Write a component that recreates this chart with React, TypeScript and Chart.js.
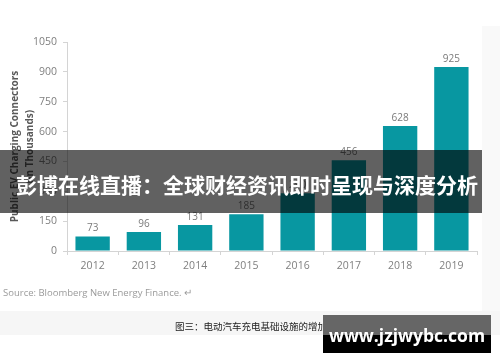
import React, { useEffect, useRef } from "react";
import { Chart, registerables } from "chart.js";

Chart.register(...registerables);

const years = ["2012", "2013", "2014", "2015", "2016", "2017", "2018", "2019"];
const connectors = [73, 96, 131, 185, 290, 456, 628, 925];
const yTitle = ["Public EV Charging Connectors", "(In Thousands)"];
const bannerText = "彭博在线直播：全球财经资讯即时呈现与深度分析";
const sourceText = "Source: Bloomberg New Energy Finance. ↵";
const captionText = "图三：电动汽车充电基础设施的增加";
const watermarkText = "www.jzjwybc.com";

const valueLabels = {
  id: "valueLabels",
  afterDatasetsDraw(chart: any) {
    const ctx = chart.ctx;
    const meta = chart.getDatasetMeta(0);
    ctx.save();
    ctx.font = "10px 'Open Sans', sans-serif";
    ctx.fillStyle = "#7a7a7a";
    ctx.textAlign = "center";
    ctx.textBaseline = "middle";
    meta.data.forEach((bar: any, i: number) => {
      ctx.fillText(String(chart.data.datasets[0].data[i]), bar.x, bar.y - 8);
    });
    ctx.restore();
  },
};

export default function App() {
  const ref = useRef<HTMLCanvasElement>(null);
  useEffect(() => {
    if (!ref.current) return;
    Chart.defaults.font.family = "'Open Sans', sans-serif";
    const chart = new Chart(ref.current, {
      type: "bar",
      data: {
        labels: years,
        datasets: [
          {
            data: connectors,
            backgroundColor: "#0897a1",
            barPercentage: 0.67,
            categoryPercentage: 1,
          },
        ],
      },
      options: {
        responsive: false,
        animation: false,
        layout: { padding: { left: 0, top: 42, right: 23, bottom: 81 } },
        plugins: { legend: { display: false }, tooltip: { enabled: false } },
        scales: {
          x: {
            grid: { offset: true, drawOnChartArea: false, drawTicks: true, tickLength: 4, color: "#d4d4d4" },
            border: { color: "#d4d4d4" },
            ticks: { color: "#7f7f7f", font: { size: 10.5 }, padding: 5 },
            afterFit: (s: any) => {
              s.height = 30;
            },
          },
          y: {
            min: 0,
            max: 1050,
            ticks: {
              stepSize: 150,
              color: "#7f7f7f",
              font: { size: 10.5 },
              padding: 6,
              callback: (v: any) => String(v),
            },
            grid: { drawOnChartArea: false, drawTicks: true, tickLength: 4, color: "#d4d4d4" },
            border: { color: "#d4d4d4" },
            title: {
              display: true,
              text: yTitle,
              color: "#595959",
              font: { size: 10, weight: "bold", lineHeight: 1.5 },
              padding: { top: 7.5, bottom: 0 },
            },
            afterFit: (s: any) => {
              s.width = 67;
            },
          },
        },
      },
      plugins: [valueLabels],
    });
    return () => chart.destroy();
  }, []);

  return (
    <div style={{ position: "absolute", left: 0, top: 0, width: 500, height: 362, background: "#fff", overflow: "hidden" }}>
      <div style={{ position: "absolute", left: 482, top: 26, width: 18, height: 285, background: "#f9f9f9" }} />
      <div style={{ position: "absolute", left: 0, top: 311, width: 500, height: 24, background: "#f6f6f6" }} />
      <canvas ref={ref} width={500} height={362} style={{ position: "absolute", left: 0, top: 0, width: 500, height: 362 }} />
      <div
        style={{
          position: "absolute",
          left: 3,
          top: 286,
          fontFamily: "'Open Sans', sans-serif",
          fontSize: 9.5,
          lineHeight: "14px",
          color: "#9a9a9a",
          whiteSpace: "nowrap",
        }}
      >
        {sourceText}
      </div>
      <div
        style={{
          position: "absolute",
          left: 175,
          top: 319,
          fontFamily: "'Noto Sans CJK SC', sans-serif",
          fontSize: 9.5,
          lineHeight: "14px",
          color: "#222",
          whiteSpace: "nowrap",
        }}
      >
        {captionText}
      </div>
      <div style={{ position: "absolute", left: 0, top: 150, width: 482, height: 63, background: "rgba(0,0,0,0.62)" }} />
      <div
        style={{
          position: "absolute",
          left: 16,
          top: 170,
          fontFamily: "'Noto Sans CJK SC', sans-serif",
          fontWeight: "bold",
          fontSize: 21,
          lineHeight: "28px",
          color: "#fff",
          whiteSpace: "nowrap",
        }}
      >
        {bannerText}
      </div>
      <div style={{ position: "absolute", left: 323, top: 315, width: 168, height: 20, background: "#666" }} />
      <div style={{ position: "absolute", left: 323, top: 335, width: 168, height: 18, background: "#000" }} />
      <div
        style={{
          position: "absolute",
          left: 323,
          top: 322,
          width: 168,
          textAlign: "center",
          fontFamily: "'Open Sans', sans-serif",
          fontWeight: "bold",
          fontSize: 17.5,
          lineHeight: "26px",
          color: "#fff",
          whiteSpace: "nowrap",
        }}
      >
        {watermarkText}
      </div>
    </div>
  );
}
